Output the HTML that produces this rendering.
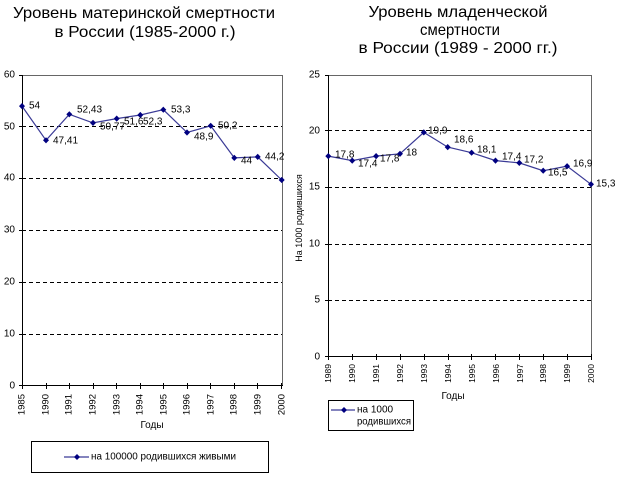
<!DOCTYPE html>
<html><head><meta charset="utf-8"><style>
html,body{margin:0;padding:0;background:#fff;}
svg{display:block;font-family:"Liberation Sans","Noto Sans CJK SC",sans-serif;}
</style></head><body>
<svg width="623" height="477" viewBox="0 0 623 477" xmlns="http://www.w3.org/2000/svg">
<rect width="623" height="477" fill="#fff"/>
<!-- Titles -->
<g font-size="16" fill="#000" text-anchor="middle">
<text x="144" y="18" textLength="262" lengthAdjust="spacingAndGlyphs">Уровень материнской смертности</text>
<text x="145" y="37" textLength="181" lengthAdjust="spacingAndGlyphs">в России (1985-2000 г.)</text>
<text x="458" y="17" textLength="179" lengthAdjust="spacingAndGlyphs">Уровень младенческой</text>
<text x="460" y="35" textLength="80" lengthAdjust="spacingAndGlyphs">смертности</text>
<text x="458" y="53" textLength="199" lengthAdjust="spacingAndGlyphs">в России (1989 - 2000 гг.)</text>
</g>

<!-- LEFT CHART -->
<g stroke="#000" stroke-width="1" stroke-dasharray="4,3" fill="none">
<line x1="22" y1="334.5" x2="282" y2="334.5"/>
<line x1="22" y1="282.5" x2="282" y2="282.5"/>
<line x1="22" y1="230.5" x2="282" y2="230.5"/>
<line x1="22" y1="178.5" x2="282" y2="178.5"/>
<line x1="22" y1="126.5" x2="282" y2="126.5"/>
</g>
<polyline points="22.5,75.5 282.5,75.5 282.5,386" fill="none" stroke="#666" stroke-width="1"/>
<line x1="22.5" y1="75" x2="22.5" y2="386" stroke="#000"/>
<line x1="22" y1="385.5" x2="283" y2="385.5" stroke="#000"/>
<g stroke="#000">
<line x1="19" y1="75.5" x2="22" y2="75.5"/>
<line x1="19" y1="126.5" x2="22" y2="126.5"/>
<line x1="19" y1="178.5" x2="22" y2="178.5"/>
<line x1="19" y1="230.5" x2="22" y2="230.5"/>
<line x1="19" y1="282.5" x2="22" y2="282.5"/>
<line x1="19" y1="334.5" x2="22" y2="334.5"/>
<line x1="19" y1="385.5" x2="22" y2="385.5"/>
</g>
<g stroke="#000">
<line x1="22.5" y1="383" x2="22.5" y2="389"/>
<line x1="46.5" y1="383" x2="46.5" y2="389"/>
<line x1="69.5" y1="383" x2="69.5" y2="389"/>
<line x1="93.5" y1="383" x2="93.5" y2="389"/>
<line x1="116.5" y1="383" x2="116.5" y2="389"/>
<line x1="140.5" y1="383" x2="140.5" y2="389"/>
<line x1="163.5" y1="383" x2="163.5" y2="389"/>
<line x1="187.5" y1="383" x2="187.5" y2="389"/>
<line x1="210.5" y1="383" x2="210.5" y2="389"/>
<line x1="234.5" y1="383" x2="234.5" y2="389"/>
<line x1="257.5" y1="383" x2="257.5" y2="389"/>
<line x1="281.5" y1="383" x2="281.5" y2="389"/>
</g>
<g font-size="10" fill="#000" text-anchor="end" dominant-baseline="central">
<text x="15" y="75">60</text>
<text x="15" y="127">50</text>
<text x="15" y="178">40</text>
<text x="15" y="230">30</text>
<text x="15" y="282">20</text>
<text x="15" y="334">10</text>
<text x="15" y="386">0</text>
</g>
<g font-size="9.5" fill="#000" text-anchor="end" dominant-baseline="central">
<text transform="translate(22,394) rotate(-90)">1985</text>
<text transform="translate(46,394) rotate(-90)">1990</text>
<text transform="translate(69,394) rotate(-90)">1991</text>
<text transform="translate(93,394) rotate(-90)">1992</text>
<text transform="translate(117,394) rotate(-90)">1993</text>
<text transform="translate(140,394) rotate(-90)">1994</text>
<text transform="translate(164,394) rotate(-90)">1995</text>
<text transform="translate(187,394) rotate(-90)">1996</text>
<text transform="translate(211,394) rotate(-90)">1997</text>
<text transform="translate(234,394) rotate(-90)">1998</text>
<text transform="translate(258,394) rotate(-90)">1999</text>
<text transform="translate(282,394) rotate(-90)">2000</text>
</g>
<text x="152" y="428" font-size="10" text-anchor="middle" fill="#000">Годы</text>
<polyline points="22,106.1 46,140.3 69.3,114.3 93,122.9 116.7,118.6 140.3,115 163.3,109.7 187,132.5 210.7,125.8 234.3,157.9 257.7,156.9 281.7,180" fill="none" stroke="#3a3a96" stroke-width="1.2"/>
<g fill="#000080">
<path d="M22,103 l3,3.1 -3,3.1 -3,-3.1z"/>
<path d="M46,137.2 l3,3.1 -3,3.1 -3,-3.1z"/>
<path d="M69.3,111.2 l3,3.1 -3,3.1 -3,-3.1z"/>
<path d="M93,119.8 l3,3.1 -3,3.1 -3,-3.1z"/>
<path d="M116.7,115.5 l3,3.1 -3,3.1 -3,-3.1z"/>
<path d="M140.3,111.9 l3,3.1 -3,3.1 -3,-3.1z"/>
<path d="M163.3,106.6 l3,3.1 -3,3.1 -3,-3.1z"/>
<path d="M187,129.4 l3,3.1 -3,3.1 -3,-3.1z"/>
<path d="M210.7,122.7 l3,3.1 -3,3.1 -3,-3.1z"/>
<path d="M234.3,154.8 l3,3.1 -3,3.1 -3,-3.1z"/>
<path d="M257.7,153.8 l3,3.1 -3,3.1 -3,-3.1z"/>
<path d="M281.7,176.9 l3,3.1 -3,3.1 -3,-3.1z"/>
</g>
<g font-size="10" fill="#000" dominant-baseline="central">
<text x="29" y="106">54</text>
<text x="53" y="141">47,41</text>
<text x="77" y="110">52,43</text>
<text x="100" y="127">50,77</text>
<text x="124" y="122">51,6</text>
<text x="143" y="122">52,3</text>
<text x="171" y="110">53,3</text>
<text x="194" y="137">48,9</text>
<text x="218" y="126">50,2</text>
<text x="241" y="161">44</text>
<text x="265" y="157">44,2</text>
</g>
<rect x="31.5" y="441.5" width="237" height="31" fill="none" stroke="#000" stroke-width="1"/>
<line x1="64" y1="457" x2="89" y2="457" stroke="#3a3a96" stroke-width="1.2"/>
<path d="M77,454 l3,3 -3,3 -3,-3z" fill="#000080"/>
<text x="91" y="457" font-size="10" fill="#000" dominant-baseline="central" textLength="145" lengthAdjust="spacingAndGlyphs">на 100000 родившихся живыми</text>

<!-- RIGHT CHART -->
<g stroke="#000" stroke-width="1" stroke-dasharray="4,3" fill="none">
<line x1="328" y1="300.5" x2="591" y2="300.5"/>
<line x1="328" y1="244.5" x2="591" y2="244.5"/>
<line x1="328" y1="187.5" x2="591" y2="187.5"/>
<line x1="328" y1="130.5" x2="591" y2="130.5"/>
</g>
<polyline points="328.5,75.5 591.5,75.5 591.5,357" fill="none" stroke="#666" stroke-width="1"/>
<line x1="328.5" y1="75" x2="328.5" y2="357" stroke="#000"/>
<line x1="328" y1="356.5" x2="592" y2="356.5" stroke="#000"/>
<g stroke="#000">
<line x1="325" y1="75.5" x2="328" y2="75.5"/>
<line x1="325" y1="130.5" x2="328" y2="130.5"/>
<line x1="325" y1="187.5" x2="328" y2="187.5"/>
<line x1="325" y1="244.5" x2="328" y2="244.5"/>
<line x1="325" y1="300.5" x2="328" y2="300.5"/>
<line x1="325" y1="356.5" x2="328" y2="356.5"/>
</g>
<g stroke="#000">
<line x1="328.5" y1="354" x2="328.5" y2="360"/>
<line x1="352.5" y1="354" x2="352.5" y2="360"/>
<line x1="376.5" y1="354" x2="376.5" y2="360"/>
<line x1="400.5" y1="354" x2="400.5" y2="360"/>
<line x1="424.5" y1="354" x2="424.5" y2="360"/>
<line x1="448.5" y1="354" x2="448.5" y2="360"/>
<line x1="471.5" y1="354" x2="471.5" y2="360"/>
<line x1="495.5" y1="354" x2="495.5" y2="360"/>
<line x1="519.5" y1="354" x2="519.5" y2="360"/>
<line x1="543.5" y1="354" x2="543.5" y2="360"/>
<line x1="567.5" y1="354" x2="567.5" y2="360"/>
<line x1="591.5" y1="354" x2="591.5" y2="360"/>
</g>
<g font-size="10" fill="#000" text-anchor="end" dominant-baseline="central">
<text x="320" y="75">25</text>
<text x="320" y="131">20</text>
<text x="320" y="187">15</text>
<text x="320" y="244">10</text>
<text x="320" y="300">5</text>
<text x="320" y="357">0</text>
</g>
<text transform="translate(299,218) rotate(-90)" font-size="9" text-anchor="middle" dominant-baseline="central" fill="#000">На 1000 родившихся</text>
<g font-size="8.5" fill="#000" text-anchor="end" dominant-baseline="central">
<text transform="translate(328,364) rotate(-90)">1989</text>
<text transform="translate(352,364) rotate(-90)">1990</text>
<text transform="translate(376,364) rotate(-90)">1991</text>
<text transform="translate(400,364) rotate(-90)">1992</text>
<text transform="translate(424,364) rotate(-90)">1993</text>
<text transform="translate(448,364) rotate(-90)">1994</text>
<text transform="translate(472,364) rotate(-90)">1995</text>
<text transform="translate(496,364) rotate(-90)">1996</text>
<text transform="translate(520,364) rotate(-90)">1997</text>
<text transform="translate(543,364) rotate(-90)">1998</text>
<text transform="translate(567,364) rotate(-90)">1999</text>
<text transform="translate(591,364) rotate(-90)">2000</text>
</g>
<text x="453" y="399" font-size="10" text-anchor="middle" fill="#000">Годы</text>
<polyline points="328.3,156.1 352.2,160.6 376.1,156.1 400,153.8 423.8,132.4 447.7,147.1 471.6,152.7 495.5,160.6 519.3,162.9 543.2,170.7 567.1,166.2 591,184.3" fill="none" stroke="#3a3a96" stroke-width="1.2"/>
<g fill="#000080">
<path d="M328.3,153 l3,3.1 -3,3.1 -3,-3.1z"/>
<path d="M352.2,157.5 l3,3.1 -3,3.1 -3,-3.1z"/>
<path d="M376.1,153 l3,3.1 -3,3.1 -3,-3.1z"/>
<path d="M400,150.7 l3,3.1 -3,3.1 -3,-3.1z"/>
<path d="M423.8,129.3 l3,3.1 -3,3.1 -3,-3.1z"/>
<path d="M447.7,144 l3,3.1 -3,3.1 -3,-3.1z"/>
<path d="M471.6,149.6 l3,3.1 -3,3.1 -3,-3.1z"/>
<path d="M495.5,157.5 l3,3.1 -3,3.1 -3,-3.1z"/>
<path d="M519.3,159.8 l3,3.1 -3,3.1 -3,-3.1z"/>
<path d="M543.2,167.6 l3,3.1 -3,3.1 -3,-3.1z"/>
<path d="M567.1,163.1 l3,3.1 -3,3.1 -3,-3.1z"/>
<path d="M591,181.2 l3,3.1 -3,3.1 -3,-3.1z"/>
</g>
<g font-size="10" fill="#000" dominant-baseline="central">
<text x="335" y="155">17,8</text>
<text x="358" y="164">17,4</text>
<text x="380" y="159">17,8</text>
<text x="406" y="153">18</text>
<text x="428" y="131">19,9</text>
<text x="454" y="140">18,6</text>
<text x="477" y="150">18,1</text>
<text x="502" y="157">17,4</text>
<text x="524" y="160">17,2</text>
<text x="548" y="173">16,5</text>
<text x="573" y="164">16,9</text>
<text x="596" y="184">15,3</text>
</g>
<rect x="328.5" y="400.5" width="85" height="30" fill="none" stroke="#000" stroke-width="1"/>
<line x1="331" y1="410" x2="355" y2="410" stroke="#3a3a96" stroke-width="1.2"/>
<path d="M344,407 l3,3 -3,3 -3,-3z" fill="#000080"/>
<g font-size="10" fill="#000" dominant-baseline="central">
<text x="357" y="410">на 1000</text>
<text x="357" y="422" textLength="54" lengthAdjust="spacingAndGlyphs">родившихся</text>
</g>
</svg>
</body></html>
